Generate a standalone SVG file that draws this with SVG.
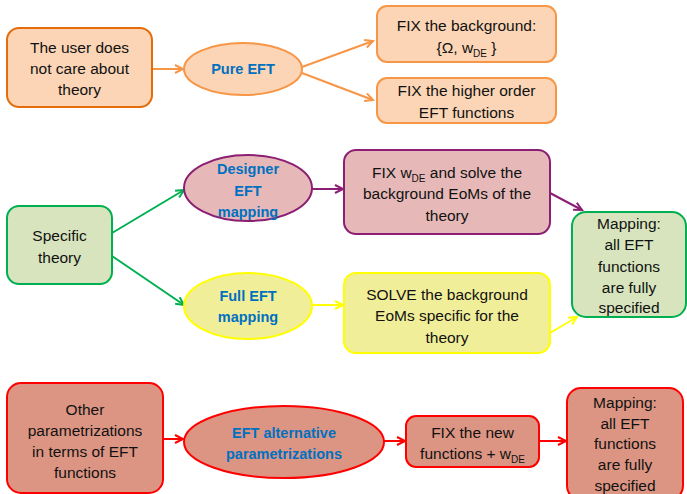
<svg xmlns="http://www.w3.org/2000/svg" width="687" height="494" viewBox="0 0 687 494">
<defs>
<style>
.t{font-family:"Liberation Sans",Arial,sans-serif;font-size:15.5px;fill:#111111;text-anchor:middle}
.b{font-family:"Liberation Sans",Arial,sans-serif;font-size:14.5px;font-weight:bold;fill:#0070C0;text-anchor:middle}
.sub{font-size:10px}
.org{fill:#FBD5B5;stroke:#F79646;stroke-width:2}
.grn{fill:#D7E4BD;stroke:#00B050;stroke-width:2}
.pnk{fill:#E6B9B8;stroke:#8B1F74;stroke-width:2}
.yel{fill:#F1EE9A;stroke:#FFFF00;stroke-width:2}
.red{fill:#DC9583;stroke:#FF0000;stroke-width:2}
.c{fill:none;stroke-width:2}
</style>
<marker id="aO" markerUnits="userSpaceOnUse" markerWidth="12" markerHeight="12" refX="9" refY="5" orient="auto"><path d="M1,1 L9,5 L1,9" fill="none" stroke="#F79646" stroke-width="2"/></marker>
<marker id="aG" markerUnits="userSpaceOnUse" markerWidth="12" markerHeight="12" refX="9" refY="5" orient="auto"><path d="M1,1 L9,5 L1,9" fill="none" stroke="#00B050" stroke-width="2"/></marker>
<marker id="aP" markerUnits="userSpaceOnUse" markerWidth="12" markerHeight="12" refX="9" refY="5" orient="auto"><path d="M1,1 L9,5 L1,9" fill="none" stroke="#8B1F74" stroke-width="2"/></marker>
<marker id="aY" markerUnits="userSpaceOnUse" markerWidth="12" markerHeight="12" refX="9" refY="5" orient="auto"><path d="M1,1 L9,5 L1,9" fill="none" stroke="#FFFF00" stroke-width="2"/></marker>
<marker id="aR" markerUnits="userSpaceOnUse" markerWidth="12" markerHeight="12" refX="9" refY="5" orient="auto"><path d="M1,1 L9,5 L1,9" fill="none" stroke="#FF0000" stroke-width="2"/></marker>
</defs>
<rect width="687" height="494" fill="#FFFFFF"/>

<g id="connectors">
<line class="c" x1="152" y1="69" x2="183" y2="69" stroke="#F79646" marker-end="url(#aO)"/>
<line class="c" x1="302" y1="67" x2="373" y2="41" stroke="#F79646" marker-end="url(#aO)"/>
<line class="c" x1="302" y1="73" x2="373" y2="100" stroke="#F79646" marker-end="url(#aO)"/>
<line class="c" x1="112" y1="233" x2="184" y2="190" stroke="#00B050" marker-end="url(#aG)"/>
<line class="c" x1="112" y1="256" x2="184" y2="305" stroke="#00B050" marker-end="url(#aG)"/>
<line class="c" x1="312" y1="189" x2="343" y2="189" stroke="#8B1F74" marker-end="url(#aP)"/>
<line class="c" x1="312" y1="305" x2="343" y2="305" stroke="#FFFF00" marker-end="url(#aY)"/>
<line class="c" x1="550" y1="193" x2="582" y2="210" stroke="#8B1F74" marker-end="url(#aP)"/>
<line class="c" x1="550" y1="333" x2="577" y2="317" stroke="#FFFF00" marker-end="url(#aY)"/>
<line class="c" x1="163" y1="439" x2="183" y2="439" stroke="#FF0000" marker-end="url(#aR)"/>
<line class="c" x1="384" y1="441" x2="405" y2="441" stroke="#FF0000" marker-end="url(#aR)"/>
<line class="c" x1="539" y1="441" x2="566" y2="441" stroke="#FF0000" marker-end="url(#aR)"/>
</g>

<g id="user">
<rect x="7" y="28" width="145" height="79" rx="12" class="org" style="stroke:#E46C0A"/>
<text class="t" x="79.5" y="52.5">The user does</text>
<text class="t" x="79.5" y="73.5">not care about</text>
<text class="t" x="79.5" y="94.5">theory</text>
</g>
<g id="pure">
<ellipse cx="243" cy="69" rx="59" ry="26" class="org"/>
<text class="b" x="243" y="74">Pure EFT</text>
</g>
<g id="fixbg">
<rect x="377" y="6" width="179" height="56" rx="10" class="org"/>
<text class="t" x="466.5" y="30.5">FIX the background:</text>
<text class="t" x="466.5" y="52.5">{Ω, w<tspan class="sub" dy="4">DE</tspan><tspan dy="-4"> }</tspan></text>
</g>
<g id="fixhigher">
<rect x="377" y="78" width="179" height="45" rx="10" class="org"/>
<text class="t" x="466.5" y="95.5">FIX the higher order</text>
<text class="t" x="466.5" y="117.5">EFT functions</text>
</g>

<g id="specific">
<rect x="7" y="206" width="105" height="78" rx="12" class="grn"/>
<text class="t" x="59.5" y="240.5">Specific</text>
<text class="t" x="59.5" y="262.5">theory</text>
</g>
<g id="designer">
<ellipse cx="248" cy="188" rx="64" ry="33" class="pnk"/>
<text class="b" x="248" y="174">Designer</text>
<text class="b" x="248" y="196">EFT</text>
<text class="b" x="248" y="217">mapping</text>
</g>
<g id="full">
<ellipse cx="248" cy="306" rx="64" ry="33" class="yel"/>
<text class="b" x="248" y="301">Full EFT</text>
<text class="b" x="248" y="322">mapping</text>
</g>
<g id="fixwde">
<rect x="344" y="150" width="206" height="84" rx="12" class="pnk"/>
<text class="t" x="447" y="177.5">FIX w<tspan class="sub" dy="4">DE</tspan><tspan dy="-4"> and solve the</tspan></text>
<text class="t" x="447" y="198.5">background EoMs of the</text>
<text class="t" x="447" y="220.5">theory</text>
</g>
<g id="solve">
<rect x="344" y="273" width="206" height="80" rx="12" class="yel"/>
<text class="t" x="447" y="299.5">SOLVE the background</text>
<text class="t" x="447" y="320.5">EoMs specific for the</text>
<text class="t" x="447" y="342.5">theory</text>
</g>
<g id="mapping1">
<rect x="572" y="212" width="114" height="105" rx="14" class="grn"/>
<text class="t" x="629" y="228.5">Mapping:</text>
<text class="t" x="629" y="249.5">all EFT</text>
<text class="t" x="629" y="271.5">functions</text>
<text class="t" x="629" y="292.5">are fully</text>
<text class="t" x="629" y="312.5">specified</text>
</g>

<g id="other">
<rect x="7" y="383" width="156" height="110" rx="14" class="red"/>
<text class="t" x="85" y="414.5">Other</text>
<text class="t" x="85" y="435.5">parametrizations</text>
<text class="t" x="85" y="456.5">in terms of EFT</text>
<text class="t" x="85" y="477.5">functions</text>
</g>
<g id="alternative">
<ellipse cx="284" cy="442" rx="100" ry="36" class="red"/>
<text class="b" x="284" y="437.5">EFT alternative</text>
<text class="b" x="284" y="458.5">parametrizations</text>
</g>
<g id="fixnew">
<rect x="406" y="416" width="133" height="51" rx="10" class="red"/>
<text class="t" x="472.5" y="437.5">FIX the new</text>
<text class="t" x="472.5" y="458.5">functions + w<tspan class="sub" dy="4">DE</tspan></text>
</g>
<g id="mapping2">
<rect x="567" y="388" width="116" height="112" rx="14" class="red"/>
<text class="t" x="625" y="407.5">Mapping:</text>
<text class="t" x="625" y="428.5">all EFT</text>
<text class="t" x="625" y="448.5">functions</text>
<text class="t" x="625" y="469.5">are fully</text>
<text class="t" x="625" y="490.5">specified</text>
</g>
</svg>
